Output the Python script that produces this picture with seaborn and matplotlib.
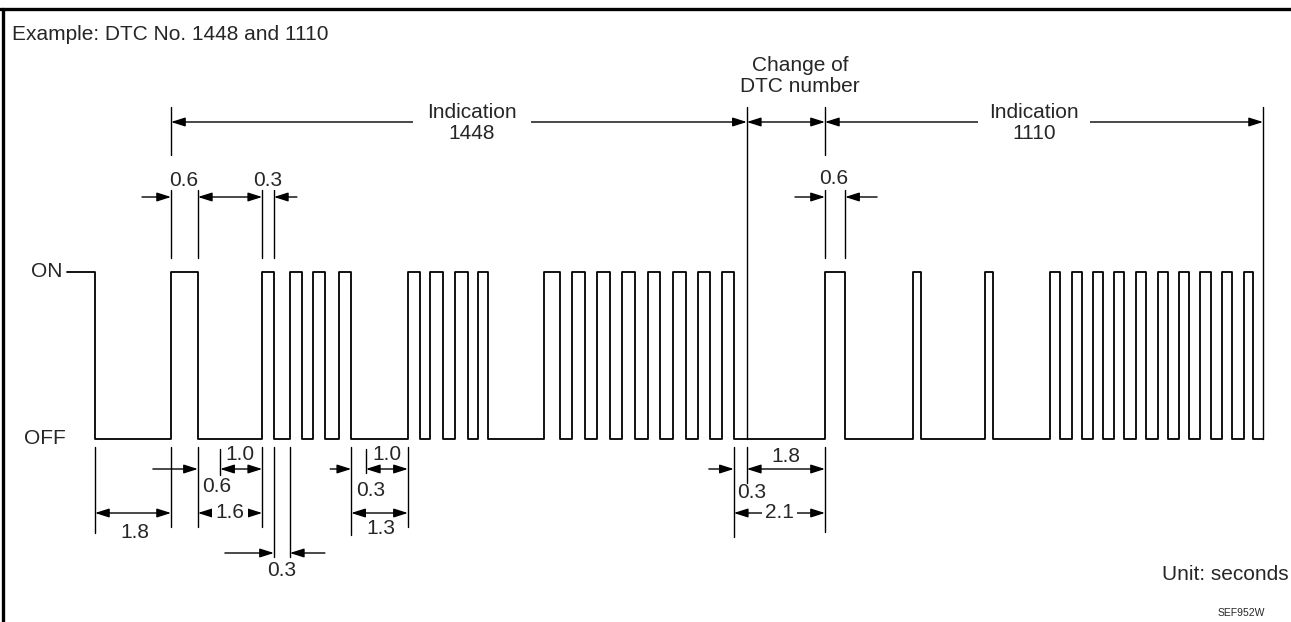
import matplotlib
matplotlib.use("Agg")
import matplotlib.pyplot as plt
import pandas as pd
import seaborn as sns

# lamp signal, seconds (0 = first falling edge)
signal_start = -0.67
pulse_on_1448 = [1.81, 3.98, 4.64, 5.19, 5.81, 7.45, 7.98, 8.57, 9.12,
                 10.69, 11.36, 11.95, 12.55, 13.17, 13.76, 14.36, 14.93]
pulse_off_1448 = [2.45, 4.26, 4.93, 5.48, 6.10, 7.74, 8.29, 8.88, 9.36,
                  11.07, 11.67, 12.26, 12.86, 13.45, 14.07, 14.64, 15.21]
pulse_on_1110 = [17.38, 19.48, 21.19, 22.74, 23.25, 23.76, 24.27, 24.79,
                 25.30, 25.81, 26.32, 26.83, 27.35]
pulse_off_1110 = [17.86, 19.67, 21.38, 22.98, 23.49, 24.00, 24.51, 25.02,
                  25.54, 26.05, 26.56, 27.07, 27.58]
ind_1448 = (1.81, 15.52)
ind_1110 = (17.38, 27.81)
level_labels = ["OFF", "ON"]

sns.set_theme(style="white")
plt.rcParams["font.family"] = ["Liberation Sans", "DejaVu Sans"]
FS = 15

W, H, DPI = 1291, 622, 100
PX_S = 42.0          # pixels per second
X0 = 95              # pixel column of t = 0
ON_PX, OFF_PX = 271.5, 438.5

fig = plt.figure(figsize=(W / DPI, H / DPI), dpi=DPI)
ax = fig.add_axes([0, 0, 1, 1])
ax.set_xlim(-X0 / PX_S, (W - X0) / PX_S)
ax.set_ylim((OFF_PX - H) / (OFF_PX - ON_PX), OFF_PX / (OFF_PX - ON_PX))
ax.axis("off")


def row(py):
    return (OFF_PX - py) / (OFF_PX - ON_PX)


def dx(px):
    return px / PX_S


def col(px):
    return (px - X0) / PX_S


# step signal
times, levels = [signal_start, 0.0], [1, 0]
for on, off in zip(pulse_on_1448 + pulse_on_1110, pulse_off_1448 + pulse_off_1110):
    times += [on, off]
    levels += [1, 0]
times.append(ind_1110[1])
levels.append(0)
df = pd.DataFrame({"t": times, "level": levels})
sns.lineplot(data=df, x="t", y="level", drawstyle="steps-post", estimator=None,
             sort=False, color="black", lw=1.3, ax=ax)

ax.text(col(63), 1, level_labels[1], ha="right", va="center", fontsize=FS)
ax.text(col(66), 0, level_labels[0], ha="right", va="center", fontsize=FS)

LW = 1.0


def vline(x, y0, y1):
    ax.plot([x, x], [row(y0), row(y1)], color="black", lw=LW)


def arrow(x0, x1, y, both=True):
    style = "<|-|>" if both else "-|>"
    ax.annotate("", xy=(x1, row(y)), xytext=(x0, row(y)),
                arrowprops=dict(arrowstyle=f"{style},head_length=0.85,head_width=0.27",
                                mutation_scale=10, color="black", lw=LW,
                                shrinkA=0, shrinkB=0))


def label(x, y, s, ha="center", box=False):
    kw = {}
    if box:
        kw["bbox"] = dict(boxstyle="square,pad=0.15", fc="white", ec="none")
    ax.text(x, row(y), s, ha=ha, va="center", fontsize=FS, zorder=5, **kw)


# separators and indication ranges
vline(ind_1448[1], 107, OFF_PX)
vline(ind_1110[1], 107, OFF_PX)
vline(ind_1448[0], 107, 155)
vline(ind_1110[0], 107, 155)
arrow(ind_1448[0], ind_1448[1], 122)
arrow(ind_1448[1], ind_1110[0], 122)
arrow(ind_1110[0], ind_1110[1], 122)
ax.text(col(472), row(123), "Indication\n1448", ha="center", va="center",
        fontsize=FS, linespacing=1.18, zorder=5,
        bbox=dict(boxstyle="square,pad=0.7", fc="white", ec="none"))
ax.text(col(1034), row(123), "Indication\n1110", ha="center", va="center",
        fontsize=FS, linespacing=1.18, zorder=5,
        bbox=dict(boxstyle="square,pad=0.55", fc="white", ec="none"))
ax.text(col(800), row(76), "Change of\nDTC number", ha="center", va="center",
        fontsize=FS, linespacing=1.12)
ax.text(col(12), row(35), "Example: DTC No. 1448 and 1110", ha="left",
        va="center", fontsize=FS)

# upper dimensions
for x in [pulse_on_1448[0], pulse_off_1448[0], pulse_on_1448[1], pulse_off_1448[1],
          pulse_on_1110[0], pulse_off_1110[0]]:
    vline(x, 190, 258)
arrow(pulse_on_1448[0] - dx(29), pulse_on_1448[0], 197, both=False)
arrow(pulse_off_1448[0], pulse_on_1448[1], 197)
arrow(pulse_off_1448[1] + dx(23), pulse_off_1448[1], 197, both=False)
label(col(184), 180, "0.6")
label(col(268), 180, "0.3")
arrow(pulse_on_1110[0] - dx(30), pulse_on_1110[0], 197, both=False)
arrow(pulse_off_1110[0] + dx(32), pulse_off_1110[0], 197, both=False)
label(col(834), 178, "0.6")

# lower dimensions, code 1448
vline(0.0, 447, 533)
vline(pulse_on_1448[0], 447, 527)
vline(pulse_off_1448[0], 447, 527)
vline(pulse_on_1448[1], 447, 527)
vline(pulse_off_1448[1], 447, 557)
vline(pulse_on_1448[2], 447, 557)
vline(pulse_off_1448[4], 447, 535)
vline(pulse_on_1448[5], 447, 527)
vline(pulse_on_1448[1] - 1.0, 449, 475)
vline(pulse_on_1448[5] - 1.0, 449, 473)

arrow(0.0, pulse_on_1448[0], 513)
label(col(135), 533, "1.8")
arrow(pulse_off_1448[0] - dx(45), pulse_off_1448[0], 469, both=False)
label(col(202), 487, "0.6", ha="left")
arrow(pulse_on_1448[1] - 1.0, pulse_on_1448[1], 469)
label(col(240), 455, "1.0")
arrow(pulse_off_1448[0], pulse_on_1448[1], 513)
label((pulse_off_1448[0] + pulse_on_1448[1]) / 2, 513, "1.6", box=True)
arrow(pulse_off_1448[1] - dx(49), pulse_off_1448[1], 553, both=False)
arrow(pulse_on_1448[2] + dx(35), pulse_on_1448[2], 553, both=False)
label(col(282), 571, "0.3")
arrow(pulse_off_1448[4] - dx(21), pulse_off_1448[4], 469, both=False)
label(col(356), 490, "0.3", ha="left")
arrow(pulse_on_1448[5] - 1.0, pulse_on_1448[5], 469)
label(col(387), 455, "1.0")
arrow(pulse_off_1448[4], pulse_on_1448[5], 513)
label(col(381), 528, "1.3")

# lower dimensions, change of number
vline(pulse_off_1448[-1], 447, 537)
vline(ind_1448[1], 447, 483)
vline(pulse_on_1110[0], 447, 532)
arrow(pulse_off_1448[-1] - dx(25), pulse_off_1448[-1], 469, both=False)
arrow(ind_1448[1], pulse_on_1110[0], 469)
label(col(786), 457, "1.8")
label(col(737), 492, "0.3", ha="left")
arrow(pulse_off_1448[-1], pulse_on_1110[0], 513)
label((pulse_off_1448[-1] + pulse_on_1110[0]) / 2, 513, "2.1", box=True)

ax.text(col(1289), row(574), "Unit: seconds", ha="right", va="center", fontsize=FS)
ax.text(col(1265), row(613), "SEF952W", ha="right", va="center", fontsize=7.5)

# frame
fig.add_artist(plt.Line2D([0, 1], [1 - 8.5 / H] * 2, color="black", lw=2.4))
fig.add_artist(plt.Line2D([3 / W] * 2, [0, 1 - 8.5 / H], color="black", lw=2.4))

fig.savefig("out.png", dpi=DPI, facecolor="white")
